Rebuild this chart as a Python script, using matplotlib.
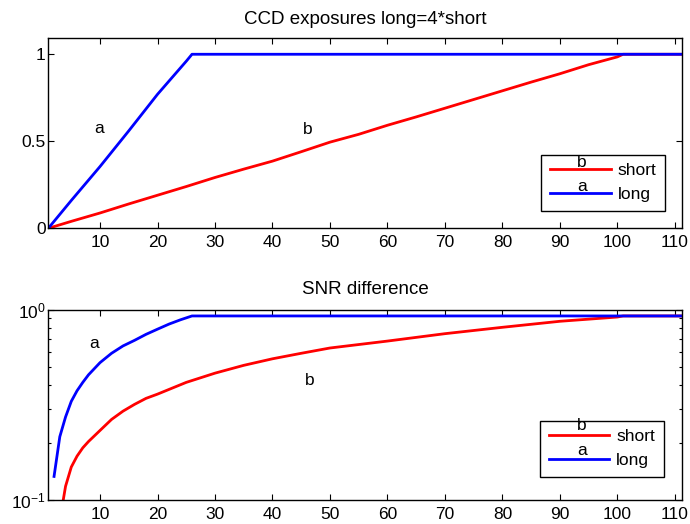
import matplotlib
matplotlib.use("Agg")
import matplotlib.pyplot as plt
from matplotlib.ticker import LogLocator, NullFormatter

plt.rcParams['font.family'] = ['Liberation Sans', 'DejaVu Sans']
plt.rcParams['font.size'] = 12.5
plt.rcParams['mathtext.fontset'] = 'custom'
plt.rcParams['mathtext.rm'] = 'Liberation Sans'

# ---- top panel data (CCD exposures) ----
top_short_x = [1, 5, 10, 15, 20, 25, 30, 35, 40, 45, 50, 55, 60, 65, 70, 75, 80, 85, 90, 95, 100, 101, 111]
top_short_y = [0.0, 0.04, 0.088, 0.14, 0.19, 0.24, 0.292, 0.34, 0.386, 0.44, 0.495, 0.54, 0.592, 0.64, 0.69, 0.74, 0.79, 0.84, 0.888, 0.94, 0.985, 1.0, 1.0]
top_long_x = [1, 5, 10, 15, 20, 25, 26, 111]
top_long_y = [0.0, 0.16, 0.355, 0.56, 0.77, 0.96, 1.0, 1.0]

# ---- bottom panel data (SNR difference) ----
snr_short_x = [3.6, 4, 5, 6, 7, 8, 10, 12, 14, 16, 18, 20, 25, 30, 35, 40, 45, 50, 60, 70, 80, 90, 100, 101, 111]
snr_short_y = [0.100, 0.118, 0.149, 0.170, 0.188, 0.203, 0.232, 0.265, 0.293, 0.318, 0.342, 0.360, 0.415, 0.464, 0.510, 0.552, 0.590, 0.629, 0.684, 0.748, 0.808, 0.869, 0.915, 0.927, 0.927]
snr_long_x = [2, 3, 4, 5, 6, 7, 8, 10, 12, 14, 16, 18, 20, 22, 24, 26, 111]
snr_long_y = [0.133, 0.215, 0.273, 0.33, 0.375, 0.415, 0.455, 0.527, 0.59, 0.645, 0.69, 0.742, 0.79, 0.84, 0.885, 0.927, 0.927]

x_ticks = [10, 20, 30, 40, 50, 60, 70, 80, 90, 100, 110]
top_yticks = [0, 0.5, 1]
top_yticklabels = ['0', '0.5', '1']

RED = '#ff0000'
BLUE = '#0000ff'
LW = 2.0
FS = 12.5
TFS = 13.5

fig = plt.figure(figsize=(6.9, 5.24), dpi=100)
ax1 = fig.add_axes([0.0700, 0.5643, 0.9180, 0.3637])
ax2 = fig.add_axes([0.0700, 0.0458, 0.9180, 0.3632])

leg_kw = dict(loc='lower right', handlelength=3.5, handletextpad=0.4, labelspacing=0.5,
              borderpad=0.5, borderaxespad=0.0, fancybox=False, edgecolor='black',
              framealpha=1, fontsize=FS)

# top
ax1.plot(top_short_x, top_short_y, color=RED, lw=LW, label='short')
ax1.plot(top_long_x, top_long_y, color=BLUE, lw=LW, label='long')
ax1.set_xlim(1, 111.2)
ax1.set_ylim(0, 1.095)
ax1.set_xticks(x_ticks)
ax1.set_yticks(top_yticks)
ax1.set_yticklabels(top_yticklabels)
ax1.set_title('CCD exposures long=4*short', fontsize=TFS, pad=10)
ax1.text(9.8, 0.576, 'a', ha='center', va='center', fontsize=FS)
ax1.text(46.1, 0.57, 'b', ha='center', va='center', fontsize=FS)
leg1 = ax1.legend(bbox_to_anchor=(0.974, 0.091), **leg_kw)
leg1.get_frame().set_linewidth(1.0)
ax1.text(93.8, 0.377, 'b', ha='center', va='center', fontsize=FS, zorder=10)
ax1.text(93.8, 0.239, 'a', ha='center', va='center', fontsize=FS, zorder=10)

# bottom
ax2.plot(snr_short_x, snr_short_y, color=RED, lw=LW, label='short')
ax2.plot(snr_long_x, snr_long_y, color=BLUE, lw=LW, label='long')
ax2.set_yscale('log')
ax2.set_xlim(1, 111.2)
ax2.set_ylim(0.1, 1.0)
ax2.set_xticks(x_ticks)
ax2.yaxis.set_major_locator(LogLocator(base=10, numticks=5))
ax2.yaxis.set_minor_locator(LogLocator(base=10, subs=range(2, 10), numticks=5))
ax2.yaxis.set_minor_formatter(NullFormatter())
ax2.set_title('SNR difference', fontsize=TFS, pad=11)
ax2.text(9.0, 0.668, 'a', ha='center', va='center', fontsize=FS)
ax2.text(46.4, 0.427, 'b', ha='center', va='center', fontsize=FS)
leg2 = ax2.legend(bbox_to_anchor=(0.9716, 0.121), **leg_kw)
leg2.get_frame().set_linewidth(1.0)
ax2.text(93.8, 0.246, 'b', ha='center', va='center', fontsize=FS, zorder=10)
ax2.text(93.8, 0.183, 'a', ha='center', va='center', fontsize=FS, zorder=10)

for ax in (ax1, ax2):
    ax.tick_params(which='both', direction='in', top=True, right=True, labelsize=FS)
    ax.tick_params(axis='x', which='major', pad=5)
    ax.tick_params(axis='y', which='major', pad=2)
    ax.tick_params(which='major', length=4, width=0.8)
    ax.tick_params(which='minor', length=2.5, width=0.8)
    for s in ax.spines.values():
        s.set_linewidth(1.0)

fig.savefig('out.png', dpi=100)
